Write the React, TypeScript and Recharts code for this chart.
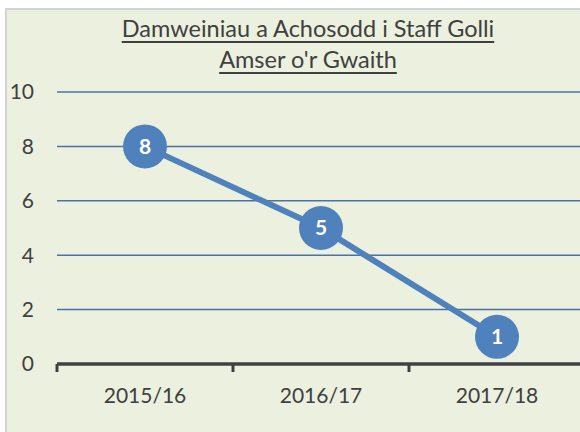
import React from 'react';
import { LineChart, Line, XAxis, YAxis, CartesianGrid, LabelList } from 'recharts';

const categories = ['2015/16', '2016/17', '2017/18'];
const values = [8, 5, 1];
const yTicks = [0, 2, 4, 6, 8, 10];
const titleLines = ['Damweiniau a Achosodd i Staff Golli', "Amser o'r Gwaith"];

const data = categories.map((c, i) => ({ cat: c, value: values[i] }));

const FONT = 'Lato, "Noto Sans", sans-serif';
const TEXT = '#404040';
const BLUE = '#4F81BD';

// Category label at the band centre, tick mark at the band's left boundary
// (half a band to the left, as given by the axis scale's own offset).
const CatTick = (props: any) => {
  const { x, y, payload } = props;
  const half = payload && typeof payload.offset === 'number' ? payload.offset : 0;
  return (
    <g>
      <line x1={x - half} x2={x - half} y1={y} y2={y + 8} stroke={TEXT} strokeWidth={3} />
      <text
        x={x}
        y={y + 24}
        dy="0.71em"
        textAnchor="middle"
        fill={TEXT}
        fontSize={21}
        fontFamily={FONT}
      >
        {payload.value}
      </text>
    </g>
  );
};

export default function App() {
  return (
    <div
      style={{
        position: 'fixed',
        left: 5,
        top: 8,
        width: 620,
        height: 440,
        border: '2px solid #D4D4D4',
        background: '#EBF1DE',
        fontFamily: FONT,
        overflow: 'hidden',
      }}
    >
      <div
        style={{
          position: 'absolute',
          left: 0,
          top: 3,
          width: 602,
          textAlign: 'center',
          color: TEXT,
          fontSize: 23.5,
          lineHeight: '30.5px',
        }}
      >
        {titleLines.map((t) => (
          <div key={t}>
            <span style={{ textDecoration: 'underline', textDecorationThickness: 2, textUnderlineOffset: 4 }}>{t}</span>
          </div>
        ))}
      </div>
      <LineChart
        width={620}
        height={440}
        data={data}
        margin={{ top: 82, right: 42, left: 0, bottom: 46 }}
      >
        <CartesianGrid
          horizontal
          vertical={false}
          stroke="#4A72A8"
          strokeWidth={1.5}
          xAxisId="cat"
          yAxisId="val"
        />
        <XAxis
          xAxisId="cat"
          dataKey="cat"
          type="category"
          scale="band"
          height={40}
          interval={0}
          axisLine={{ stroke: TEXT, strokeWidth: 3.5 }}
          tickLine={false}
          tickSize={0}
          tickMargin={0}
          tick={CatTick}
        />
        <YAxis
          yAxisId="val"
          domain={[0, 10]}
          ticks={yTicks}
          width={50}
          axisLine={false}
          tickLine={false}
          tickSize={0}
          tickMargin={23}
          tick={{ fill: TEXT, fontSize: 21, fontFamily: FONT }}
        />
        <Line
          xAxisId="cat"
          yAxisId="val"
          dataKey="value"
          stroke={BLUE}
          strokeWidth={6}
          dot={{ r: 22, fill: BLUE, stroke: 'none' }}
          activeDot={false}
          isAnimationActive={false}
        >
          <LabelList
            dataKey="value"
            position="center"
            fill="#FFFFFF"
            fontSize={21}
            fontWeight={700}
            fontFamily={FONT}
          />
        </Line>
      </LineChart>
    </div>
  );
}
